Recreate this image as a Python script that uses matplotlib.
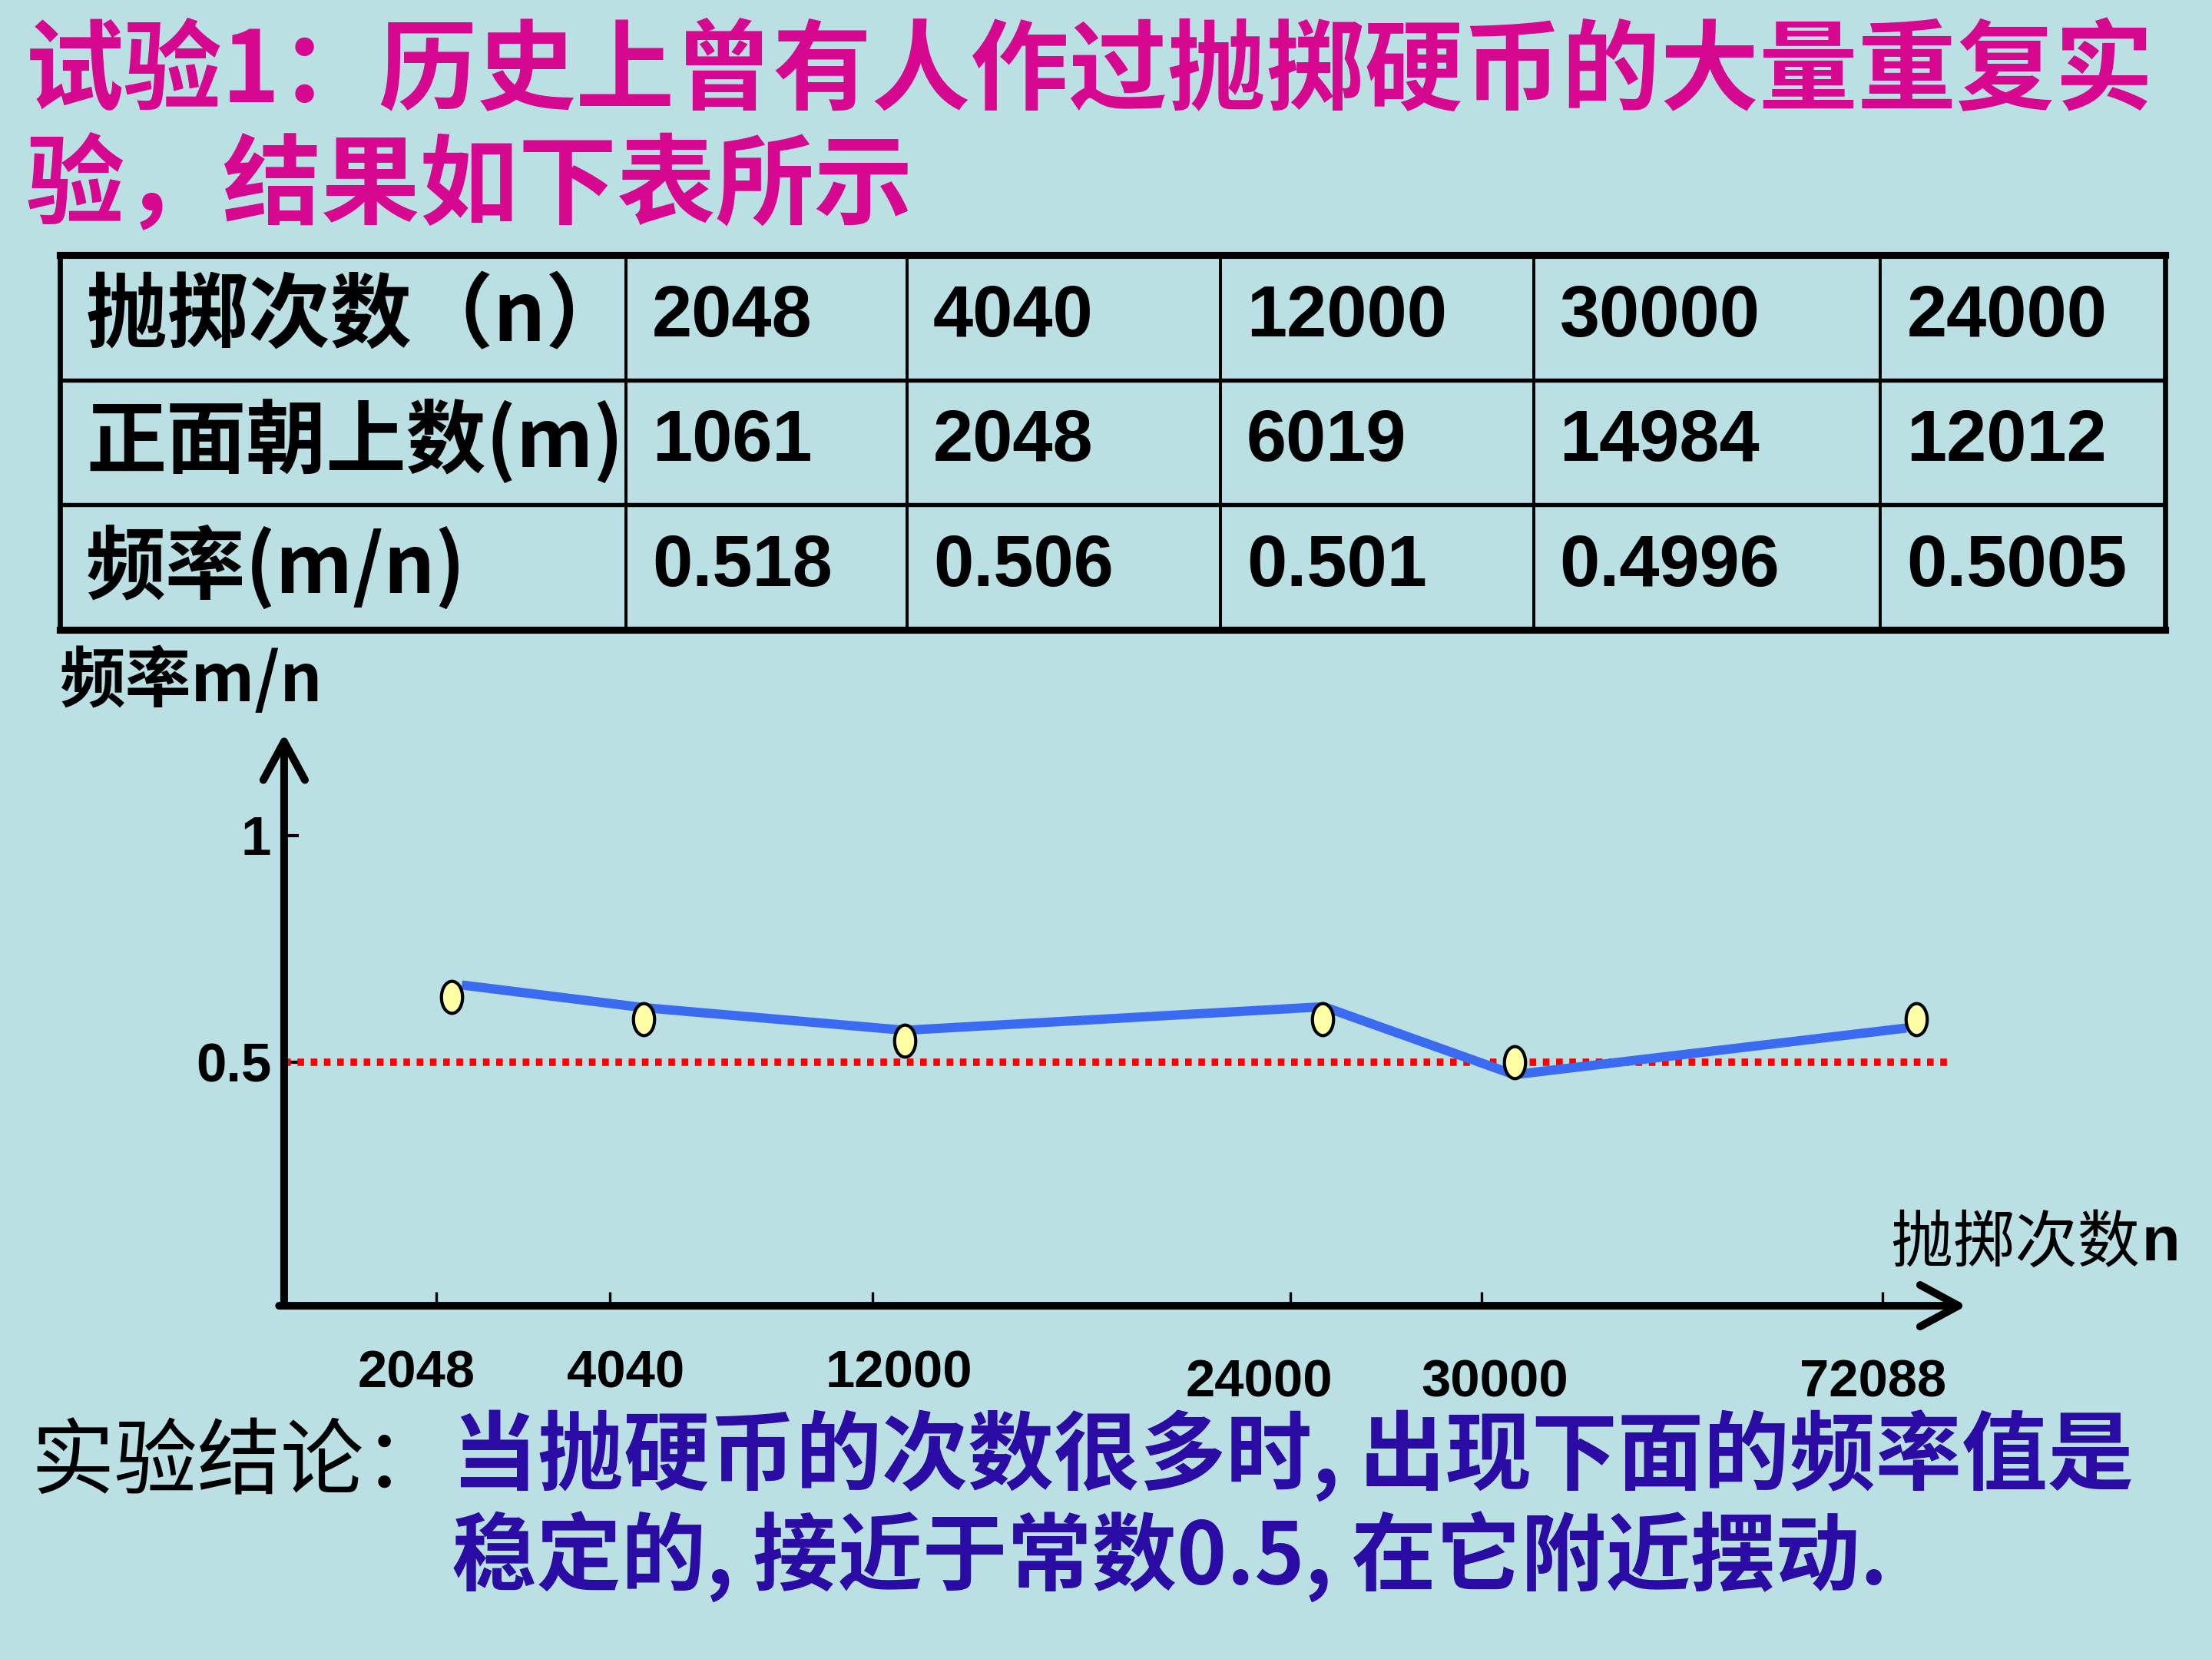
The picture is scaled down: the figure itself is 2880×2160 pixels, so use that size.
"""
coin toss experiment slide: result table plus a schematic frequency chart
"""
import matplotlib
matplotlib.use("Agg")
import matplotlib.pyplot as plt
from matplotlib.path import Path
from matplotlib.transforms import Affine2D, blended_transform_factory

# table values
row_headers = ["抛掷次数（n）", "正面朝上数(m)", "频率(m/n)"]
toss_counts = ["2048", "4040", "12000", "30000", "24000"]
heads_counts = ["1061", "2048", "6019", "14984", "12012"]
frequencies = ["0.518", "0.506", "0.501", "0.4996", "0.5005"]

# schematic chart below the table (uneven spacing as drawn on the slide)
n_labels = ["2048", "4040", "12000", "24000", "30000", "72088"]
tick_pos = [108, 231, 417, 713, 849, 1133]
label_pos = [94, 242, 436, 691, 858, 1126]
point_pos = [119, 255, 440, 736, 872, 1157]
point_freq = [0.644, 0.595, 0.547, 0.595, 0.500, 0.595]
line_pos = [126, 255, 440, 737, 872, 1150]
line_freq = [0.670, 0.620, 0.570, 0.622, 0.472, 0.575]
ref_level = 0.5

CJK = ["Noto Sans CJK SC", "DejaVu Sans"]
LATIN = ["Liberation Sans", "DejaVu Sans"]
BG = "#BBE0E3"
MAGENTA = "#D6088F"
DARK_BLUE = "#2A0BA3"

plt.rcParams["font.family"] = CJK

# slide layout grid (px of a 1568x1176 slide)
W, H = 1568, 1176


def fx(x):
    return x / W


def fy(y):
    return 1 - y / H


fig = plt.figure(figsize=(9.6, 7.2), dpi=300, facecolor=BG)

# title
fig.text(fx(18), fy(52), "试验1：历史上曾有人作过抛掷硬币的大量重复实",
         ha="left", va="center", fontsize=30.8, fontweight="bold", color=MAGENTA)
fig.text(fx(18), fy(133), "验，结果如下表所示",
         ha="left", va="center", fontsize=30.8, fontweight="bold", color=MAGENTA)

# ---- table ----
col_edges = [42.5, 443.7, 643, 865, 1087, 1333, 1535]
col_px = [b - a for a, b in zip(col_edges[:-1], col_edges[1:])]
total = col_edges[-1] - col_edges[0]
tab_ax = fig.add_axes([fx(42.5), fy(446.5), fx(1535) - fx(42.5), fy(180.6) - fy(446.5)])
tab_ax.axis("off")

cell_text = [[row_headers[i]] + vals
             for i, vals in enumerate([toss_counts, heads_counts, frequencies])]
tbl = tab_ax.table(cellText=cell_text, cellLoc="left",
                   colWidths=[w / total for w in col_px], bbox=[0, 0, 1, 1])
tbl.auto_set_font_size(False)
for (r, c), cell in tbl.get_celld().items():
    cell.set_facecolor("none")
    cell.set_edgecolor("black")
    cell.set_linewidth(0.9)
    cell.PAD = 18.5 / col_px[c]
    txt = cell.get_text()
    txt.set_fontweight("bold")
    if c == 0:
        txt.set_fontfamily(CJK)
        txt.set_fontsize(25.5 if r == 0 else 25)
    else:
        txt.set_fontfamily(LATIN)
        txt.set_fontsize(22.5)

# heavier rules like on the slide
for yv in (0, 1):
    tab_ax.axhline(yv, color="black", lw=2.2, clip_on=False)
for yv in (1 / 3, 2 / 3):
    tab_ax.axhline(yv, color="black", lw=1.3, clip_on=False)
for xv in (0, 1):
    tab_ax.axvline(xv, color="black", lw=1.6, clip_on=False)
tab_ax.set_xlim(0, 1)
tab_ax.set_ylim(0, 1)

# ---- chart ----
x0, x1 = 201.4, 1394
y_top, y_axis = 520, 925.6
ax = fig.add_axes([fx(x0), fy(y_axis), fx(x1) - fx(x0), fy(y_top) - fy(y_axis)])
ax.set_facecolor("none")
ax.set_xlim(0, x1 - x0)
ax.set_ylim(-0.0383, 1.2252)
for s in ax.spines.values():
    s.set_visible(False)

# axes with open arrow heads
arrow = dict(arrowstyle="->,head_length=1.2,head_width=0.65", lw=2.4,
             color="black", shrinkA=0, shrinkB=0, mutation_scale=10)
ax.annotate("", xy=(0, 1), xytext=(0, 0), xycoords="axes fraction",
            textcoords="axes fraction", arrowprops=arrow)
ax.annotate("", xy=(1, 0), xytext=(-0.003, 0), xycoords="axes fraction",
            textcoords="axes fraction", arrowprops=arrow)

ax.set_yticks([0.5, 1], labels=["0.5", "1"])
ax.tick_params(axis="y", direction="in", length=4.6, width=1.0, pad=4)
for lab in ax.get_yticklabels():
    lab.set_fontfamily(LATIN)
    lab.set_fontweight("bold")
    lab.set_fontsize(17)

ax.set_xticks(tick_pos, labels=[""] * len(tick_pos))
ax.tick_params(axis="x", direction="in", length=4.3, width=0.8)

# n labels below the axis (last three sit a little lower)
trans = blended_transform_factory(ax.transData, fig.transFigure)
for i, (xp, lab) in enumerate(zip(label_pos, n_labels)):
    ly = 973.5 if i < 3 else 980.5
    ax.text(xp, fy(ly), lab, transform=trans, ha="center", va="center",
            fontsize=16.5, fontweight="bold", family=LATIN)

# 0.5 reference line
ax.hlines(ref_level, 0, 1180, colors="#FF0000", linewidth=2.3,
          linestyles=(0, (0.9, 0.9)), zorder=2)

# frequency polyline and the points
ax.plot(line_pos, line_freq, color="#3A6BF0", lw=2.9, solid_capstyle="butt", zorder=3)
ellipse = Path.unit_circle().transformed(Affine2D().scale(0.66, 1.0))
ax.plot(point_pos, point_freq, linestyle="none", marker=ellipse, markersize=10,
        markerfacecolor="#FFFFA6", markeredgecolor="black", markeredgewidth=1.0,
        zorder=4)

# axis labels
fig.text(fx(42), fy(483), "频率m/n", ha="left", va="center",
         fontsize=20.6, fontweight="bold")
fig.text(fx(1340), fy(882), "抛掷次数", ha="left", va="center", fontsize=19.5)
fig.text(fx(1518), fy(882), "n", ha="left", va="center", fontsize=19.5,
         fontweight="bold", family=LATIN)

# conclusion
fig.text(fx(22), fy(1038), "实验结论：", ha="left", va="center", fontsize=26)
fig.text(fx(320), fy(1032), "当抛硬币的次数很多时, 出现下面的频率值是",
         ha="left", va="center", fontsize=26.9, fontweight="bold", color=DARK_BLUE)
fig.text(fx(320), fy(1104), "稳定的, 接近于常数0.5, 在它附近摆动.",
         ha="left", va="center", fontsize=26.5, fontweight="bold", color=DARK_BLUE)

fig.savefig("out.png", dpi=300, facecolor=BG)
